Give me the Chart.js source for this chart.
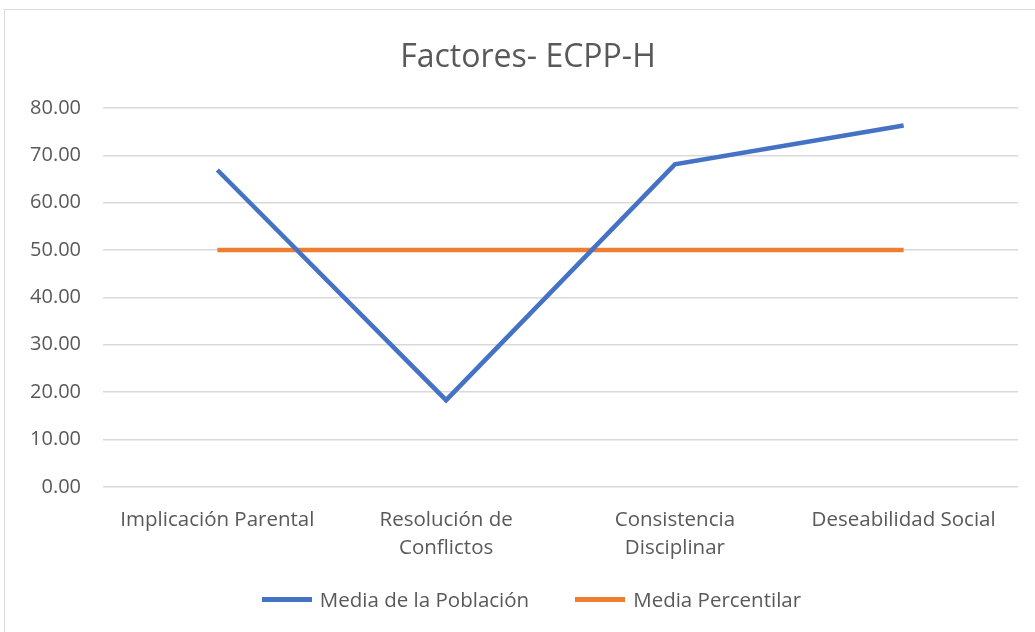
<!DOCTYPE html>
<html>
<head>
<meta charset="utf-8">
<script src="https://cdn.jsdelivr.net/npm/chart.js@4.4.1/dist/chart.umd.min.js"></script>
<style>
  html, body { margin: 0; padding: 0; background: #fff; }
  .frame {
    position: absolute; left: 4px; top: 9px; width: 1040px; height: 640px;
    border: 1px solid #d9d9d9; box-sizing: border-box;
  }
  .wrap { position: absolute; left: 0; top: 0; width: 1035px; height: 632px; }
  .chart_title {
    position: absolute; left: 0; top: 35px; width: 1056px; margin: 0;
    text-align: center; line-height: 40px;
    font-family: 'Open Sans', 'Liberation Sans', sans-serif; font-size: 32px; font-weight: normal; color: #595959;
  }
  .chart_legend {
    position: absolute; left: 14px; top: 585px; width: 1035px; height: 28px;
    margin: 0; padding: 0; list-style: none;
    display: flex; justify-content: center; align-items: center; gap: 46px;
    font-family: 'Open Sans', 'Liberation Sans', sans-serif; font-size: 20.5px; color: #595959;
  }
  .chart_legend li { display: flex; align-items: center; white-space: nowrap; }
  .chart_legend__color { display: inline-block; width: 50px; height: 5px; margin-right: 8px; }
</style>
</head>
<body>
<div class="frame"></div>
<div class="wrap"><canvas id="myChart" width="1035" height="632"></canvas></div>
<h1 class="chart_title" id="chart_title"></h1>
<ul class="chart_legend" id="chart_legend"></ul>
<script>
const title = "Factores- ECPP-H";
const categories = [
  "Implicación Parental",
  ["Resolución de", "Conflictos"],
  ["Consistencia", "Disciplinar"],
  "Deseabilidad Social",
];
const seriesNames = ["Media de la Población", "Media Percentilar"];
const mediaPoblacion = [66.9, 18.3, 68.1, 76.3];
const mediaPercentilar = [50, 50, 50, 50];
const yTicks = { min: 0, max: 80, step: 10 };

const colors = ["#4472C4", "#ED7D31"];
const textColor = "#595959";
const font = "'Open Sans', 'Liberation Sans', sans-serif";

const ctx = document.getElementById("myChart").getContext("2d");

new Chart(ctx, {
  type: "line",
  data: {
    labels: categories,
    datasets: [mediaPoblacion, mediaPercentilar].map((values, i) => ({
      label: seriesNames[i],
      data: values,
      borderColor: colors[i],
      backgroundColor: colors[i],
      borderWidth: 4.5,
      pointRadius: 0,
      tension: 0,
    })),
  },
  options: {
    responsive: false,
    animation: false,
    layout: { padding: { left: 0, right: 17, top: 108, bottom: 59 } },
    plugins: {
      title: { display: false },
      legend: { display: false },
      tooltip: { enabled: false },
    },
    scales: {
      x: {
        offset: true,
        grid: { display: false },
        border: { display: false },
        ticks: {
          color: textColor,
          font: { family: font, size: 20.5, lineHeight: 1.37 },
          maxRotation: 0,
          autoSkip: false,
          padding: 11,
        },
      },
      y: {
        min: yTicks.min,
        max: yTicks.max,
        grid: { color: "#d9d9d9", lineWidth: 1.5, drawTicks: false },
        border: { display: false },
        afterFit: (scale) => {
          scale.width = 103;
        },
        ticks: {
          stepSize: yTicks.step,
          color: textColor,
          font: { family: font, size: 20 },
          padding: 22,
          callback: (v) => v.toFixed(2),
        },
      },
    },
  },
});

// title and legend in html
document.getElementById("chart_title").textContent = title;

const legendContainer = document.getElementById("chart_legend");
seriesNames.forEach((name, i) => {
  const li = document.createElement("li");
  li.innerHTML = `<span class="chart_legend__color" style="background-color: ${colors[i]}"></span>${name}`;
  legendContainer.appendChild(li);
});
</script>
</body>
</html>
